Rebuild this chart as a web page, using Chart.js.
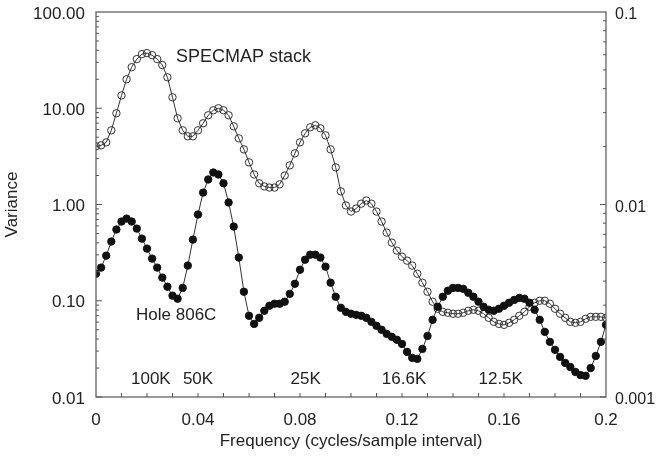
<!DOCTYPE html>
<html>
<head>
<meta charset="utf-8">
<script src="https://cdn.jsdelivr.net/npm/chart.js@4/dist/chart.umd.min.js"></script>
<style>
  body { margin: 0; background: #fff; }
  canvas { display: block; }
</style>
</head>
<body>
<canvas id="graph1" width="657" height="459"></canvas>
<script>
// frequenze (cicli/intervallo di campionamento)
var freq = [0, 0.002, 0.004, 0.006, 0.008, 0.01, 0.012, 0.014, 0.016, 0.018,
	0.02, 0.022, 0.024, 0.026, 0.028, 0.03, 0.032, 0.034, 0.036, 0.038,
	0.04, 0.042, 0.044, 0.046, 0.048, 0.05, 0.052, 0.054, 0.056, 0.058,
	0.06, 0.062, 0.064, 0.066, 0.068, 0.07, 0.072, 0.074, 0.076, 0.078,
	0.08, 0.082, 0.084, 0.086, 0.088, 0.09, 0.092, 0.094, 0.096, 0.098,
	0.1, 0.102, 0.104, 0.106, 0.108, 0.11, 0.112, 0.114, 0.116, 0.118,
	0.12, 0.122, 0.124, 0.126, 0.128, 0.13, 0.132, 0.134, 0.136, 0.138,
	0.14, 0.142, 0.144, 0.146, 0.148, 0.15, 0.152, 0.154, 0.156, 0.158,
	0.16, 0.162, 0.164, 0.166, 0.168, 0.17, 0.172, 0.174, 0.176, 0.178,
	0.18, 0.182, 0.184, 0.186, 0.188, 0.19, 0.192, 0.194, 0.196, 0.198, 0.2];

// SPECMAP stack (cerchi vuoti)
var specmap = [4.02, 4.12, 4.42, 5.90, 8.87, 13.6, 20.0, 26.7, 32.4, 36.5,
	37.4, 35.6, 32.4, 28.1, 21.0, 13.0, 7.87, 5.90, 5.11, 5.11,
	5.90, 6.98, 8.45, 9.53, 10.0, 9.53, 8.45, 6.49, 4.87, 3.74,
	2.74, 2.05, 1.66, 1.54, 1.50, 1.50, 1.62, 2.00, 2.55, 3.40,
	4.42, 5.49, 6.34, 6.65, 6.19, 5.23, 3.74, 2.43, 1.37, 0.977,
	0.845, 0.908, 1.02, 1.10, 1.02, 0.845, 0.665, 0.511, 0.402, 0.332,
	0.287, 0.261, 0.232, 0.191, 0.154, 0.124, 0.0977, 0.0826, 0.0767, 0.0750,
	0.0733, 0.0733, 0.0750, 0.0787, 0.0806, 0.0787, 0.0733, 0.0665, 0.0604, 0.0575,
	0.0562, 0.0590, 0.0634, 0.0698, 0.0767, 0.0866, 0.0953, 0.100, 0.100, 0.0931,
	0.0826, 0.0733, 0.0665, 0.0604, 0.0590, 0.0604, 0.0649, 0.0681, 0.0681, 0.0681, 0.0665];

// Hole 806C (cerchi pieni)
var hole806c = [0.191, 0.221, 0.294, 0.412, 0.550, 0.665, 0.714, 0.665, 0.562, 0.442,
	0.348, 0.274, 0.221, 0.174, 0.140, 0.113, 0.105, 0.136, 0.232, 0.432,
	0.787, 1.33, 1.82, 2.15, 2.05, 1.66, 1.05, 0.590, 0.281, 0.124,
	0.0698, 0.0575, 0.0665, 0.0787, 0.0887, 0.0931, 0.0931, 0.0977, 0.118, 0.150,
	0.210, 0.267, 0.301, 0.301, 0.281, 0.226, 0.154, 0.110, 0.0845, 0.0767,
	0.0733, 0.0714, 0.0698, 0.0665, 0.0604, 0.0549, 0.0499, 0.0453, 0.0422, 0.0393,
	0.0356, 0.0294, 0.0255, 0.0249, 0.0316, 0.0431, 0.0634, 0.0866, 0.110, 0.127,
	0.136, 0.136, 0.133, 0.121, 0.110, 0.0977, 0.0866, 0.0806, 0.0787, 0.0826,
	0.0887, 0.0953, 0.102, 0.107, 0.105, 0.0953, 0.0806, 0.0634, 0.0475, 0.0374,
	0.0309, 0.0261, 0.0226, 0.0205, 0.0182, 0.0169, 0.0166, 0.0200, 0.0267, 0.0374, 0.0562];

// tick labels
var xTicks = [0, 0.04, 0.08, 0.12, 0.16, 0.2];
var yTicks = [0.01, 0.1, 1, 10, 100];
var y2Ticks = [0.001, 0.01, 0.1];

// etichette dei periodi
var periodLabels = ['100K', '50K', '25K', '16.6K', '12.5K'];
var periodFreq = [0.0215, 0.0400, 0.0822, 0.1208, 0.1587];

var FONT = '"Liberation Sans", Arial, sans-serif';
var INK = '#222';


function toPoints(values) {
	return freq.map(function(f, i) { return { x: f, y: values[i] }; });
}


// asse verticale a larghezza fissa, senza margini extra sopra/sotto
function fixVertical(width) {
	return function(scale) {
		scale.width = width;
		scale.paddingTop = 0;
		scale.paddingBottom = 0;
	};
}


// cornice, tacche interne e scritte dentro il grafico
var extras = {
	id: 'extras',
	afterDraw: function(chart) {
		var ctx = chart.ctx;
		var a = chart.chartArea;
		var sx = chart.scales.x, sy = chart.scales.y, sy2 = chart.scales.y2;

		ctx.save();
		ctx.strokeStyle = '#555';
		ctx.lineWidth = 1.2;
		ctx.strokeRect(a.left, a.top, a.right - a.left, a.bottom - a.top);

		ctx.lineWidth = 1;
		ctx.beginPath();
		// tacche log asse sinistro
		[0.01, 0.1, 1, 10].forEach(function(d) {
			for (var m = 1; m <= 9; m++) {
				var py = sy.getPixelForValue(m * d);
				var len = m == 1 ? 6 : 3;
				ctx.moveTo(a.left, py);
				ctx.lineTo(a.left + len, py);
			}
		});
		// tacche log asse destro
		[0.001, 0.01].forEach(function(d) {
			for (var m = 1; m <= 9; m++) {
				var py = sy2.getPixelForValue(m * d);
				var len = m == 1 ? 6 : 3;
				ctx.moveTo(a.right, py);
				ctx.lineTo(a.right - len, py);
			}
		});
		// tacche asse x ogni 0.01
		for (var k = 1; k < 20; k++) {
			var px = sx.getPixelForValue(k / 100);
			ctx.moveTo(px, a.bottom);
			ctx.lineTo(px, a.bottom - 4);
		}
		ctx.stroke();

		ctx.fillStyle = INK;
		ctx.textBaseline = 'middle';

		ctx.font = '18px ' + FONT;
		ctx.textAlign = 'left';
		ctx.fillText('SPECMAP stack', sx.getPixelForValue(0.0314), sy.getPixelForValue(34));

		ctx.font = '17px ' + FONT;
		ctx.fillText('Hole 806C', sx.getPixelForValue(0.0157), sy.getPixelForValue(0.070));

		ctx.textAlign = 'center';
		periodLabels.forEach(function(t, i) {
			ctx.fillText(t, sx.getPixelForValue(periodFreq[i]), sy.getPixelForValue(0.0154));
		});
		ctx.restore();
	}
};


var ctx = document.getElementById('graph1').getContext('2d');

var chart = new Chart(ctx, {
	type: 'line',
	data: {
		datasets: [{
			label: 'Hole 806C',
			data: toPoints(hole806c),
			borderColor: '#333',
			borderWidth: 1,
			pointRadius: 3.7,
			pointBorderWidth: 1,
			pointBackgroundColor: '#111',
			pointBorderColor: '#111',
			tension: 0
		}, {
			label: 'SPECMAP stack',
			data: toPoints(specmap),
			borderColor: '#333',
			borderWidth: 1,
			pointRadius: 3.7,
			pointBorderWidth: 1,
			pointBackgroundColor: 'rgba(255,255,255,0)',
			pointBorderColor: '#333',
			tension: 0
		}]
	},
	options: {
		responsive: false,
		animation: false,
		devicePixelRatio: 1,
		layout: { padding: { top: 12, left: 0, right: 0, bottom: 0 } },
		plugins: {
			legend: { display: false },
			tooltip: { enabled: false }
		},
		scales: {
			x: {
				type: 'linear',
				min: 0,
				max: 0.2,
				grid: { display: false, drawTicks: false },
				border: { display: false },
				afterBuildTicks: function(scale) {
					scale.ticks = xTicks.map(function(v) { return { value: v }; });
				},
				afterFit: function(scale) { scale.height = 62; },
				ticks: {
					color: INK,
					font: { family: FONT, size: 17 },
					padding: 13,
					maxRotation: 0,
					autoSkip: false,
					callback: function(v) { return v === 0 ? '0' : String(+v.toFixed(2)); }
				},
				title: {
					display: true,
					text: 'Frequency (cycles/sample interval)',
					color: INK,
					font: { family: FONT, size: 17 },
					padding: { top: 0, bottom: 7 }
				}
			},
			y: {
				type: 'logarithmic',
				position: 'left',
				min: 0.01,
				max: 100,
				grid: { display: false, drawTicks: false },
				border: { display: false },
				afterBuildTicks: function(scale) {
					scale.ticks = yTicks.map(function(v) { return { value: v }; });
				},
				afterFit: fixVertical(96),
				ticks: {
					color: INK,
					font: { family: FONT, size: 17 },
					padding: 11,
					labelOffset: 2,
					callback: function(v) { return v.toFixed(2); }
				},
				title: {
					display: true,
					text: 'Variance',
					color: INK,
					font: { family: FONT, size: 17 },
					padding: { top: 2, bottom: 0 }
				}
			},
			y2: {
				type: 'logarithmic',
				position: 'right',
				display: true,
				min: 0.001,
				max: 0.1,
				grid: { display: false, drawTicks: false },
				border: { display: false },
				afterBuildTicks: function(scale) {
					scale.ticks = y2Ticks.map(function(v) { return { value: v }; });
				},
				afterFit: fixVertical(51),
				ticks: {
					color: INK,
					font: { family: FONT, size: 16 },
					padding: 9,
					labelOffset: 3,
					callback: function(v) { return String(v); }
				}
			}
		}
	},
	plugins: [extras]
});
</script>
</body>
</html>
